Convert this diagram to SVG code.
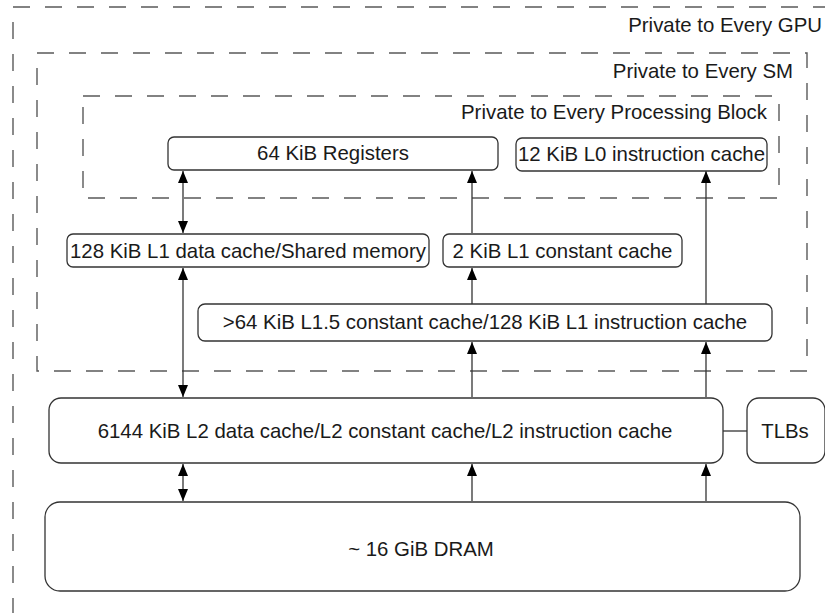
<svg xmlns="http://www.w3.org/2000/svg" width="825" height="613" viewBox="0 0 825 613">
<style>
.zone{fill:none;stroke:#5a5a5a;stroke-width:1.4;stroke-dasharray:17 15}
.box{fill:#fff;stroke:#333;stroke-width:1.3}
.t{font-family:"Liberation Sans",Arial,sans-serif;font-size:20.4px;fill:#1a1a1a}
.c{text-anchor:middle}
.r{text-anchor:end}
.ln{stroke:#333;stroke-width:1.3;fill:none}
</style>
<defs>
<marker id="ah" viewBox="0 0 12 10" refX="12" refY="5" markerWidth="12" markerHeight="10" markerUnits="userSpaceOnUse" orient="auto-start-reverse">
<path d="M0,0 L12,5 L0,10 Z" fill="#000"/>
</marker>
</defs>
<rect width="825" height="613" fill="#fff"/>
<g id="zone-gpu">
<rect class="zone" x="13" y="7" width="900" height="700"/>
<text class="t r" x="822" y="32">Private to Every GPU</text>
</g>
<g id="zone-sm">
<rect class="zone" x="37" y="53" width="770" height="318"/>
<text class="t r" x="793" y="78">Private to Every SM</text>
</g>
<g id="zone-pb">
<rect class="zone" x="83" y="96" width="696" height="102"/>
<text class="t r" x="767" y="119">Private to Every Processing Block</text>
</g>
<g id="connectors">
<line class="ln" x1="183" y1="171" x2="183" y2="233" marker-start="url(#ah)" marker-end="url(#ah)"/>
<line class="ln" x1="183" y1="268" x2="183" y2="397" marker-start="url(#ah)" marker-end="url(#ah)"/>
<line class="ln" x1="183" y1="464" x2="183" y2="501" marker-start="url(#ah)" marker-end="url(#ah)"/>
<line class="ln" x1="472" y1="233" x2="472" y2="171" marker-end="url(#ah)"/>
<line class="ln" x1="472" y1="304" x2="472" y2="268" marker-end="url(#ah)"/>
<line class="ln" x1="472" y1="397" x2="472" y2="342" marker-end="url(#ah)"/>
<line class="ln" x1="472" y1="501" x2="472" y2="464" marker-end="url(#ah)"/>
<line class="ln" x1="706" y1="304" x2="706" y2="171" marker-end="url(#ah)"/>
<line class="ln" x1="706" y1="397" x2="706" y2="342" marker-end="url(#ah)"/>
<line class="ln" x1="706" y1="501" x2="706" y2="464" marker-end="url(#ah)"/>
<line class="ln" x1="723" y1="431" x2="747" y2="431"/>
</g>
<g id="registers">
<rect class="box" x="168" y="137" width="330" height="33" rx="6"/>
<text class="t c" x="333" y="160">64 KiB Registers</text>
</g>
<g id="l0-icache">
<rect class="box" x="516" y="138" width="251" height="33" rx="6"/>
<text class="t c" x="641.5" y="161">12 KiB L0 instruction cache</text>
</g>
<g id="l1-data">
<rect class="box" x="67" y="234" width="362" height="33" rx="6"/>
<text class="t c" x="248" y="258">128 KiB L1 data cache/Shared memory</text>
</g>
<g id="l1-const">
<rect class="box" x="443" y="234" width="239" height="33" rx="6"/>
<text class="t c" x="562.5" y="258">2 KiB L1 constant cache</text>
</g>
<g id="l15">
<rect class="box" x="198" y="304" width="574" height="37" rx="7"/>
<text class="t c" x="485" y="329">&gt;64 KiB L1.5 constant cache/128 KiB L1 instruction cache</text>
</g>
<g id="l2">
<rect class="box" x="49" y="398" width="674" height="65" rx="12"/>
<text class="t c" x="385" y="438">6144 KiB L2 data cache/L2 constant cache/L2 instruction cache</text>
</g>
<g id="tlbs">
<rect class="box" x="747" y="398" width="78" height="65" rx="12"/>
<text class="t c" x="785" y="438">TLBs</text>
</g>
<g id="dram">
<rect class="box" x="45" y="502" width="755" height="89" rx="15"/>
<text class="t c" x="421" y="556">~ 16 GiB DRAM</text>
</g>
</svg>
